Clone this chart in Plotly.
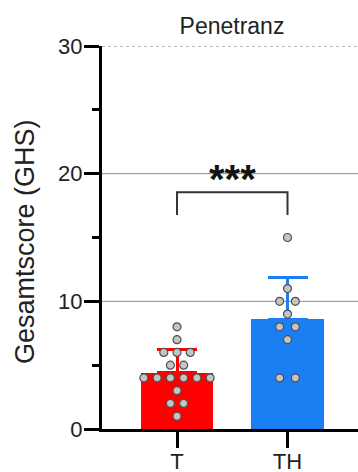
import numpy as np
import plotly.graph_objects as go

# ---- data ----
categories = ["T", "TH"]
values_T = [8, 7, 6, 6, 6, 5, 5, 4, 4, 4, 4, 4, 4, 3, 2, 2, 1]
values_TH = [15, 11, 10, 10, 9, 8, 8, 7, 4, 4]
bar_colors = ["#ff0000", "#1a7ff2"]
y_ticks = [0, 10, 20, 30]
title_text = "Penetranz"
y_title = "Gesamtscore (GHS)"
sig_label = "***"

groups = [values_T, values_TH]
means = [float(np.mean(v)) for v in groups]
sds = [float(np.std(v, ddof=1)) for v in groups]
xpos = list(range(len(categories)))

fig = go.Figure()

# bars with upward SD error bars
for i, (m, s) in enumerate(zip(means, sds)):
    fig.add_trace(go.Bar(
        x=[xpos[i]], y=[m], width=0.66,
        marker=dict(color=bar_colors[i], line=dict(width=0)),
        error_y=dict(type="data", array=[s], arrayminus=[0], symmetric=False,
                     color=bar_colors[i], thickness=3, width=20),
        showlegend=False, hoverinfo="skip"))

# beeswarm points
spacing = [0.12, 0.142]
for i, vals in enumerate(groups):
    xs, ys = [], []
    for v in sorted(set(vals), reverse=True):
        n = vals.count(v)
        for k in range(n):
            xs.append(xpos[i] + (k - (n - 1) / 2) * spacing[i])
            ys.append(v)
    fig.add_trace(go.Scatter(
        x=xs, y=ys, mode="markers",
        marker=dict(size=8, color="#c4c4c4", line=dict(color="#505050", width=1.2)),
        showlegend=False, hoverinfo="skip"))

# grid lines
for gy in [10, 20]:
    fig.add_shape(type="line", xref="paper", x0=0, x1=1, yref="y", y0=gy, y1=gy,
                  line=dict(color="#8c8c8c", width=1), layer="below")
fig.add_shape(type="line", xref="paper", x0=0, x1=1, yref="y", y0=30, y1=30,
              line=dict(color="#777777", width=1, dash="dot"), layer="below")

# significance bracket
fig.add_shape(type="path",
              path=f"M {xpos[0]},16.77 L {xpos[0]},18.55 L {xpos[1]},18.55 L {xpos[1]},16.77",
              line=dict(color="#333333", width=2))
fig.add_annotation(x=(xpos[0] + xpos[1]) / 2, y=19.6, text="<b>" + sig_label + "</b>", showarrow=False,
                   font=dict(size=40, color="#111111", family="Liberation Sans, Arial"),
                   xanchor="center", yanchor="middle")

# y title
fig.add_annotation(xref="paper", yref="paper", x=(25 - 102) / 256, y=(429 - 242) / 383,
                   text=y_title, textangle=-90, showarrow=False,
                   font=dict(size=27, color="#222222", family="Liberation Sans, Arial"),
                   xanchor="center", yanchor="middle")

fig.update_layout(
    width=358, height=472,
    margin=dict(l=102, r=0, t=46, b=43),
    paper_bgcolor="white", plot_bgcolor="white",
    font=dict(family="Liberation Sans, Arial", color="#222222", size=22),
    title=dict(text=title_text, x=(232) / 358, xanchor="center", xref="container",
               y=1 - 26 / 472, yanchor="middle", yref="container",
               font=dict(size=23, color="#222222")),
    bargap=0,
    xaxis=dict(range=[-0.679, 1.638], tickvals=xpos, ticktext=categories,
               showline=True, linecolor="black", linewidth=3, automargin=False,
               ticks="outside", ticklen=16, tickwidth=3, tickcolor="black",
               showgrid=False, zeroline=False, ticklabelstandoff=-5),
    yaxis=dict(range=[0, 30], tickvals=y_ticks, automargin=False,
               showline=True, linecolor="black", linewidth=3,
               ticks="outside", ticklen=15, tickwidth=3, tickcolor="black",
               minor=dict(dtick=5, ticklen=7, tickwidth=3, tickcolor="black", ticks="outside"),
               showgrid=False, zeroline=False, ticklabelstandoff=-3),
)

fig.write_html("out.html")
